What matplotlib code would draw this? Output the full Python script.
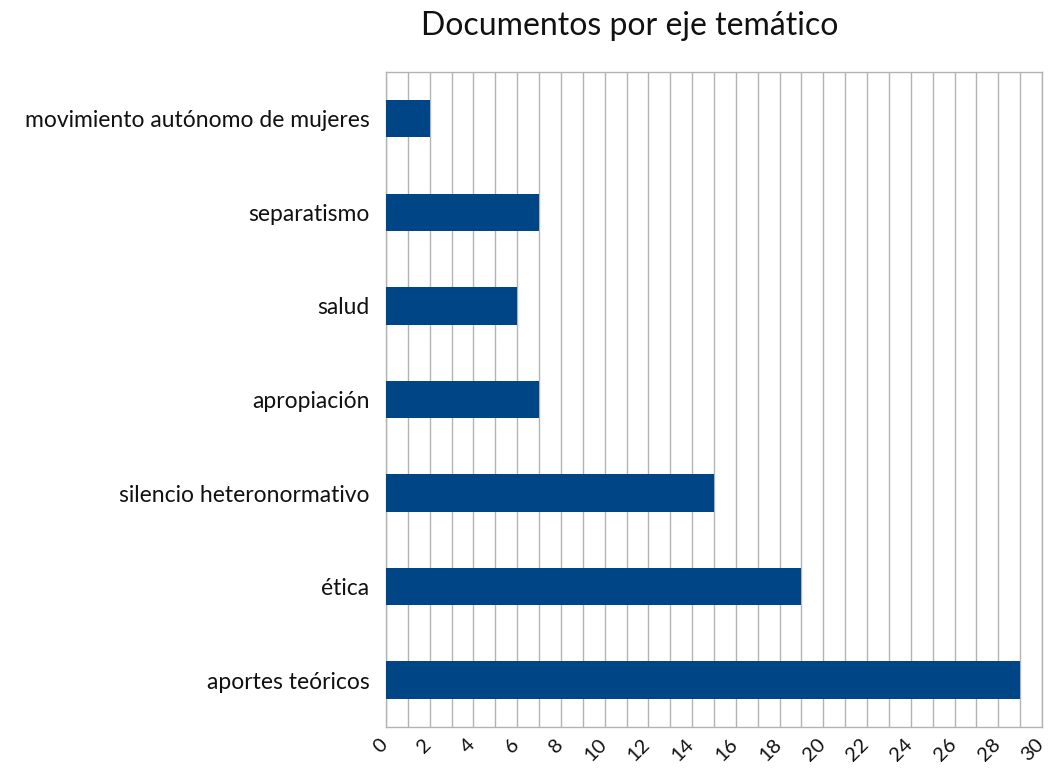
import matplotlib
matplotlib.use("Agg")
import matplotlib.pyplot as plt
import matplotlib.transforms as mtransforms
from matplotlib.ticker import MultipleLocator

categories = ["movimiento autónomo de mujeres", "separatismo", "salud", "apropiación",
              "silencio heteronormativo", "ética", "aportes teóricos"]
values = [2, 7, 6, 7, 15, 19, 29]
title = "Documentos por eje temático"

plt.rcParams['font.family'] = ['Lato', 'DejaVu Sans']

fig = plt.figure(figsize=(10.5, 7.78), dpi=100)
ax = fig.add_axes([0.3676, 0.0656, 0.6248, 0.8419])

ypos = list(range(len(categories)))
ax.barh(ypos, values, height=0.4, color="#004586", zorder=3)
ax.set_yticks(ypos)
ax.set_yticklabels(categories, fontsize=16.5, color="#111111")
ax.set_ylim(len(categories) - 0.5, -0.5)
ax.set_xlim(0, 30)
ax.xaxis.set_major_locator(MultipleLocator(2))
ax.xaxis.set_minor_locator(MultipleLocator(1))
ax.grid(axis='x', which='both', color="#b3b3b3", linewidth=1, zorder=0)
ax.tick_params(axis='both', which='both', length=0)
ax.tick_params(axis='y', pad=12)
ax.tick_params(axis='x', pad=6)
offset = mtransforms.ScaledTranslation(-7 / 100, 0, fig.dpi_scale_trans)
for lbl in ax.get_xticklabels():
    lbl.set_rotation(45)
    lbl.set_ha('right')
    lbl.set_va('top')
    lbl.set_rotation_mode('anchor')
    lbl.set_fontsize(14.5)
    lbl.set_color("#111111")
    lbl.set_transform(lbl.get_transform() + offset)
for s in ax.spines.values():
    s.set_color("#b3b3b3")
    s.set_linewidth(1)
fig.text(0.6, 0.967, title, fontsize=23, color="#111111", ha='center', va='center')

fig.savefig("out.png", dpi=100)
